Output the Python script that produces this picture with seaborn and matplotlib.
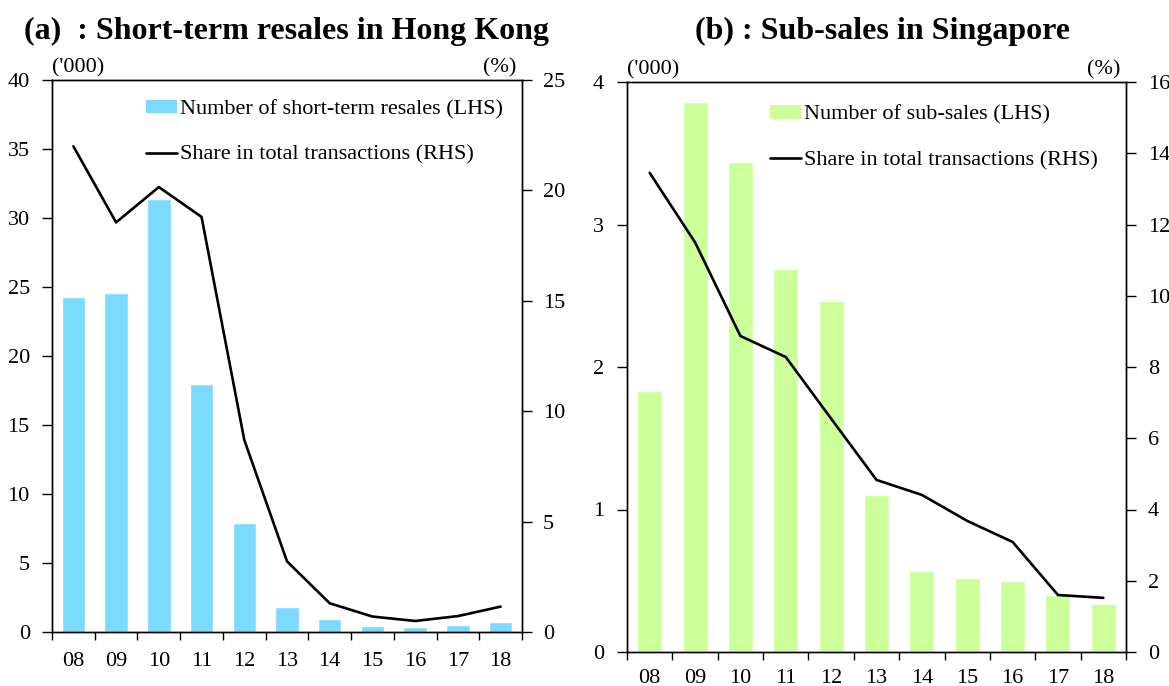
import numpy as np
import pandas as pd
import matplotlib
matplotlib.use("Agg")
import matplotlib.pyplot as plt
import seaborn as sns
from matplotlib.patches import Patch
from matplotlib.lines import Line2D

# Years (2008-2018)
years = ["08", "09", "10", "11", "12", "13", "14", "15", "16", "17", "18"]

# Hong Kong: short-term resales ('000) and share in total transactions (%)
hk_resales = [24.3, 24.6, 31.4, 18.0, 7.9, 1.8, 0.95, 0.45, 0.35, 0.5, 0.75]
hk_share = [22.0, 18.55, 20.15, 18.8, 8.7, 3.2, 1.3, 0.7, 0.5, 0.72, 1.15]

# Singapore: sub-sales ('000) and share in total transactions (%)
sg_subsales = [1.83, 3.86, 3.44, 2.69, 2.46, 1.10, 0.57, 0.52, 0.50, 0.40, 0.34]
sg_share = [13.45, 11.5, 8.87, 8.28, 6.55, 4.83, 4.41, 3.68, 3.09, 1.60, 1.52]

hk_labels = ["Number of short-term resales (LHS)", "Share in total transactions (RHS)"]
sg_labels = ["Number of sub-sales (LHS)", "Share in total transactions (RHS)"]

sns.set_theme(style="ticks")
plt.rcParams["font.family"] = ["Liberation Serif", "DejaVu Serif"]
plt.rcParams["axes.edgecolor"] = "black"
plt.rcParams["axes.linewidth"] = 1.0
plt.rcParams["text.color"] = "black"
plt.rcParams["xtick.color"] = "black"
plt.rcParams["ytick.color"] = "black"

W, H = 1169, 686
FS = 16
fig = plt.figure(figsize=(W / 100, H / 100), dpi=100)


def px_axes(x0, y0, x1, y1):
    return fig.add_axes([x0 / W, 1 - y1 / H, (x1 - x0) / W, (y1 - y0) / H])


def panel(ax, counts, share, color, lmax, lstep, rmax, rstep, labels,
          leg_xy, xpad, lpad, rpad):
    n = len(years)
    df = pd.DataFrame({"year": years, "count": counts, "share": share,
                       "pos": np.arange(n)})
    sns.barplot(data=df, x="year", y="count", color=color, saturation=1,
                width=0.55, ax=ax, zorder=2)
    ax2 = ax.twinx()
    sns.lineplot(data=df, x="pos", y="share", color="black", linewidth=1.9,
                 ax=ax2)
    ax.set_xlim(-0.5, n - 0.5)
    ax.set_ylim(0, lmax)
    ax.set_yticks(np.arange(0, lmax + lstep / 2, lstep))
    ax2.set_ylim(0, rmax)
    ax2.set_yticks(np.arange(0, rmax + rstep / 2, rstep))
    ax.set_xlabel("")
    ax.set_ylabel("")
    ax2.set_ylabel("")
    ax2.set_xlabel("")
    ax.set_yticklabels([f"{v:g}" for v in ax.get_yticks()])
    ax2.set_yticklabels([f"{v:g}" for v in ax2.get_yticks()])

    ax.set_xticks(np.arange(n))
    ax.set_xticklabels(years)
    ax.set_xticks(np.arange(-0.5, n), minor=True)
    ax.tick_params(axis="x", which="major", length=0, pad=xpad, labelsize=FS,
                   colors="black")
    ax.tick_params(axis="x", which="minor", length=6, width=1.0,
                   direction="out", color="black")
    ax.tick_params(axis="y", length=7, width=1.0, direction="out",
                   pad=lpad, labelsize=FS, colors="black")
    ax2.tick_params(axis="y", length=7, width=1.0, direction="out",
                    pad=rpad, labelsize=FS, colors="black")
    for sp in list(ax.spines.values()) + list(ax2.spines.values()):
        sp.set_color("black")
        sp.set_linewidth(1.0)

    ax.text(0.0, 1.004, "('000)", transform=ax.transAxes, ha="left",
            va="bottom", fontsize=FS)
    ax.text(0.988, 1.004, "(%)", transform=ax.transAxes, ha="right",
            va="bottom", fontsize=FS)

    handles = [Patch(facecolor=color, edgecolor="none"),
               Line2D([], [], color="black", linewidth=1.9)]
    ax2.legend(handles, labels, loc="upper left", bbox_to_anchor=leg_xy,
               frameon=False, fontsize=FS, handlelength=1.4,
               handleheight=0.55, handletextpad=0.13, labelspacing=1.17,
               borderpad=0, borderaxespad=0)
    return ax2


axL = px_axes(52, 80, 522, 632)
panel(axL, hk_resales, hk_share, "#7BDAFE", 40, 5, 25, 5, hk_labels,
      (0.2, 0.964), 14.5, 9, 8)

axR = px_axes(627, 82, 1126, 652)
panel(axR, sg_subsales, sg_share, "#CCFF99", 4, 1, 16, 2, sg_labels,
      (0.287, 0.959), 12, 9.4, 8.6)

fig.text((52 + 522) / 2 / W, 1 - 31 / H,
         "(a)  : Short-term resales in Hong Kong", ha="center", va="center",
         fontsize=23, fontweight="bold")
fig.text((627 + 1126) / 2 / W + 6 / W, 1 - 31 / H,
         "(b) : Sub-sales in Singapore", ha="center", va="center",
         fontsize=23, fontweight="bold")

fig.savefig("out.png", dpi=100)
